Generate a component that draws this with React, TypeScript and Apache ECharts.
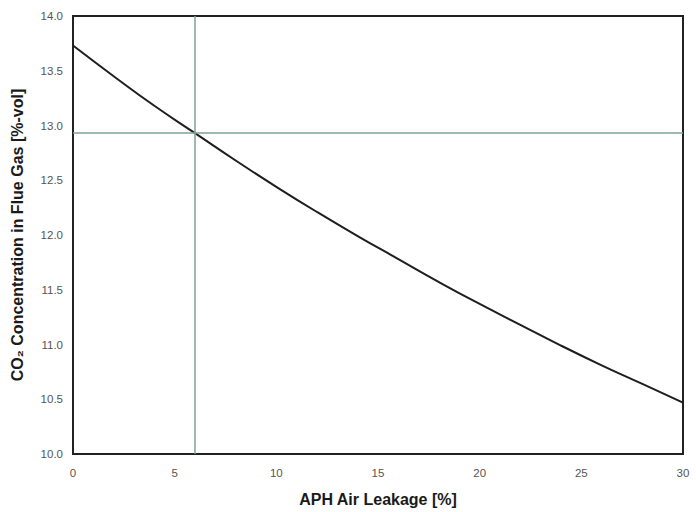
import React, { useEffect, useRef } from "react";
import * as echarts from "echarts";

// Air leakage through the air preheater (%)
const leakage = [0, 2, 4, 6, 8, 10, 12, 14, 16, 18, 20, 22, 24, 26, 28, 30];
// CO2 concentration in flue gas (%-vol)
const co2 = [13.73, 13.45, 13.18, 12.93, 12.68, 12.44, 12.21, 11.99, 11.78, 11.57, 11.37, 11.18, 10.99, 10.81, 10.64, 10.47];

// Reference operating point
const refLeakage = 6;
const refCo2 = 12.93;

const xTicks = [0, 5, 10, 15, 20, 25, 30];
const yTicks = [10.0, 10.5, 11.0, 11.5, 12.0, 12.5, 13.0, 13.5, 14.0];

export default function App() {
  const ref = useRef<HTMLDivElement>(null);

  useEffect(() => {
    document.body.style.margin = "0";
    const chart = echarts.init(ref.current!, null, { renderer: "svg" });
    const font = "Liberation Sans, Arial, sans-serif";
    const labelStyle = { color: "#555", fontFamily: font, fontSize: 11.5 };
    const nameStyle = { color: "#1a1a1a", fontFamily: font, fontSize: 16, fontWeight: "bold" as const };
    chart.setOption({
      animation: false,
      backgroundColor: "#fff",
      grid: {
        left: 73,
        right: 13,
        top: 16,
        bottom: 57,
        show: true,
        borderColor: "#222",
        borderWidth: 2,
      },
      xAxis: {
        type: "value",
        min: xTicks[0],
        max: xTicks[xTicks.length - 1],
        interval: 5,
        name: "APH Air Leakage [%]",
        nameLocation: "middle",
        nameGap: 37,
        nameTextStyle: nameStyle,
        axisLine: { show: true, lineStyle: { color: "#222", width: 2 } },
        axisTick: { show: false },
        axisLabel: { ...labelStyle, margin: 13 },
        splitLine: { show: false },
      },
      yAxis: {
        type: "value",
        min: yTicks[0],
        max: yTicks[yTicks.length - 1],
        interval: 0.5,
        name: "CO₂ Concentration in Flue Gas [%-vol]",
        nameLocation: "middle",
        nameGap: 48,
        nameTextStyle: nameStyle,
        axisLine: { show: true, lineStyle: { color: "#222", width: 2 } },
        axisTick: { show: false },
        axisLabel: {
          ...labelStyle,
          margin: 10,
          formatter: (v: number) => v.toFixed(1),
        },
        splitLine: { show: false },
      },
      series: [
        {
          type: "line",
          data: leakage.map((x, i) => [x, co2[i]]),
          smooth: true,
          showSymbol: false,
          lineStyle: { color: "#1e1e1e", width: 2 },
          markLine: {
            silent: true,
            symbol: "none",
            label: { show: false },
            lineStyle: { color: "#7fa098", width: 1.5, type: "solid" },
            data: [{ xAxis: refLeakage }, { yAxis: refCo2 }],
          },
          z: 3,
        },
      ],
    });
    return () => chart.dispose();
  }, []);

  return <div ref={ref} style={{ width: 696, height: 512 }} />;
}
